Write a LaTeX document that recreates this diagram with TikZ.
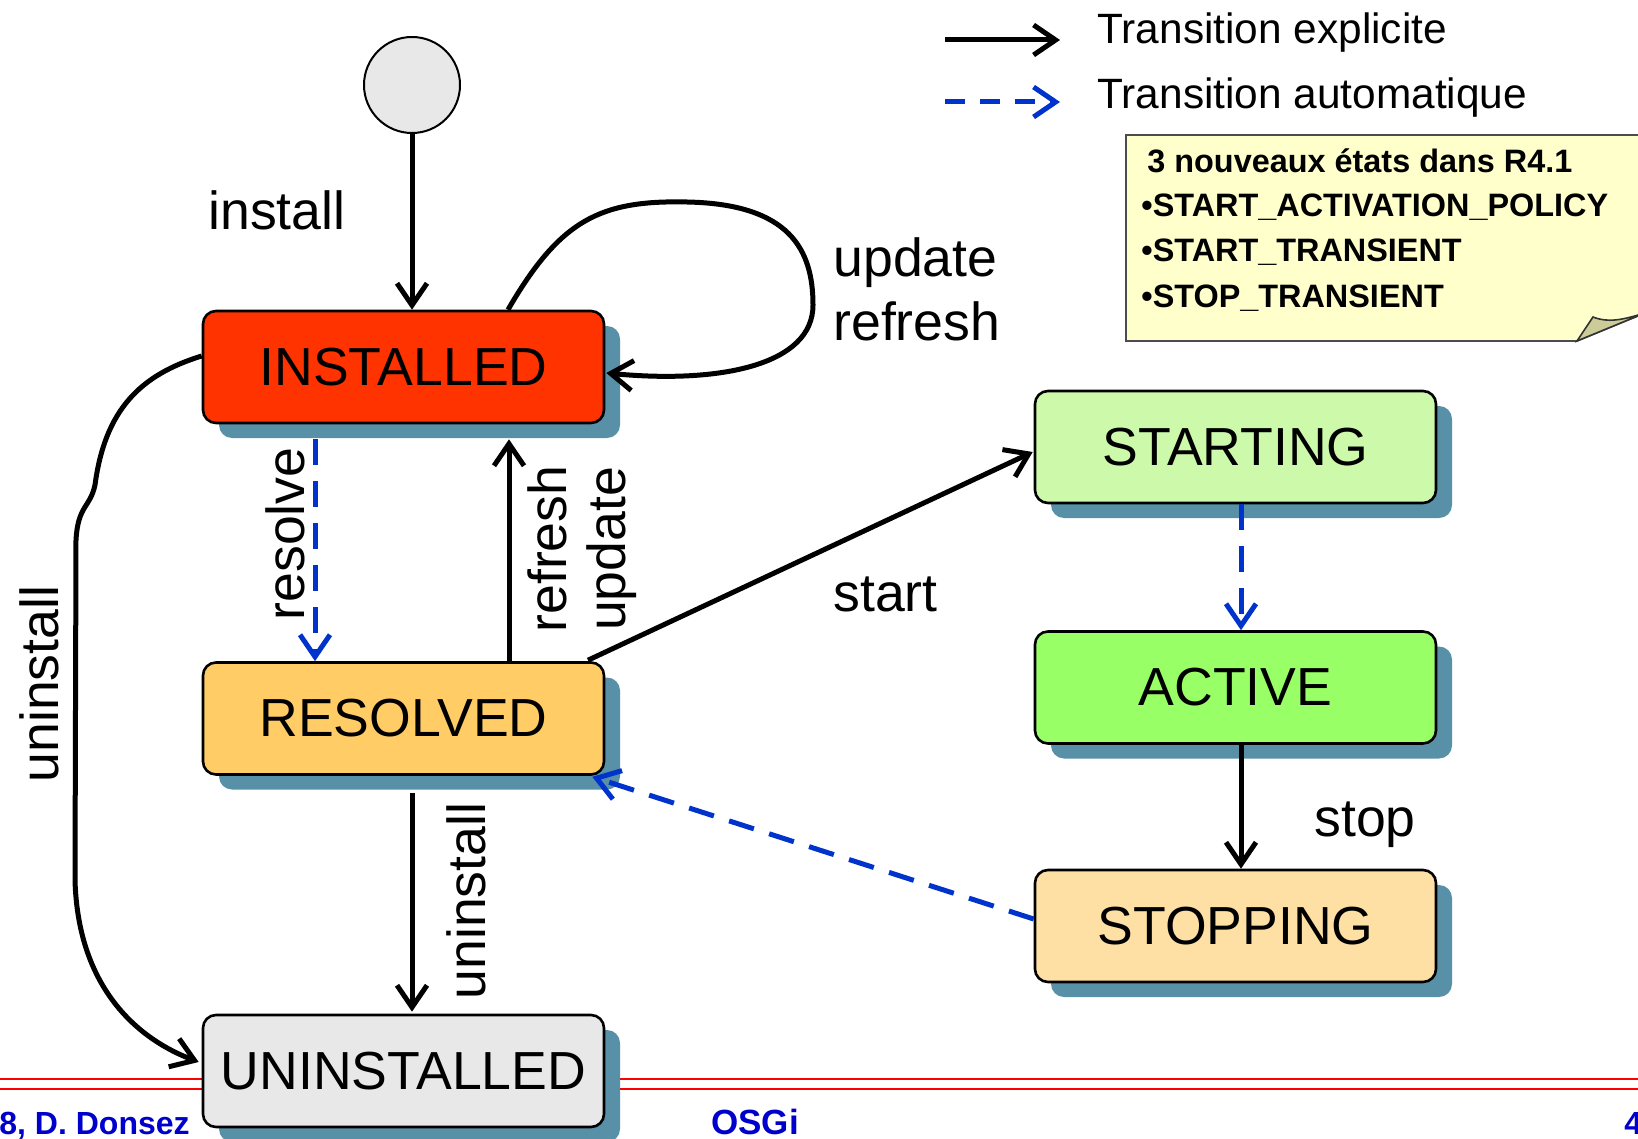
\documentclass[tikz,border=0pt]{standalone}
\usepackage{fontspec}
\setmainfont{Liberation Sans}
\usetikzlibrary{arrows.meta,calc,shadows}

\definecolor{installedc}{RGB}{255,51,0}
\definecolor{resolvedc}{RGB}{255,204,102}
\definecolor{uninstalledc}{RGB}{232,232,232}
\definecolor{startingc}{RGB}{204,250,170}
\definecolor{activec}{RGB}{153,255,102}
\definecolor{stoppingc}{RGB}{255,224,164}
\definecolor{shadowc}{RGB}{88,144,168}
\definecolor{autoc}{RGB}{0,51,204}
\definecolor{notec}{RGB}{255,255,204}
\definecolor{foldc}{RGB}{204,204,153}
\definecolor{footerc}{RGB}{0,0,204}
\definecolor{rulec}{RGB}{255,0,0}

\begin{document}
\begin{tikzpicture}[x=0.5pt,y=-0.5pt,
  state/.style={draw=black, line width=1.3pt, rounded corners=6.5pt,
    minimum width=200.5pt, minimum height=56pt, inner sep=0pt,
    font=\fontsize{26.8}{31}\selectfont,
    drop shadow={shadow xshift=8pt, shadow yshift=-7.5pt, fill=shadowc, opacity=1}},
  tipstyle/.style={-{Straight Barb[length=11pt,width=15pt]}},
  explicit/.style={draw=black, line width=2.5pt, tipstyle},
  autotrans/.style={draw=autoc, line width=2.5pt, dash pattern=on 13pt off 8pt, tipstyle},
  lbl/.style={font=\fontsize{26.8}{31}\selectfont, inner sep=0pt},
  legendtxt/.style={font=\fontsize{21.2}{25}\selectfont, inner sep=0pt, anchor=base west},
  notetxt/.style={font=\fontsize{16.2}{19}\selectfont\bfseries, inner sep=0pt, anchor=base west},
  footertxt/.style={font=\fontsize{16}{19}\selectfont\bfseries, text=footerc, inner sep=0pt, anchor=base west}
]
\useasboundingbox (0,0) rectangle (1638,1139);

% footer rules
\draw[rulec, line width=1pt] (0,1079) -- (1638,1079);
\draw[rulec, line width=1pt] (0,1089) -- (1638,1089);

% footer texts
\node[footertxt] (foot1) at (-1,1134) {8, D. Donsez};
\node[footertxt, font=\fontsize{17.5}{20}\selectfont\bfseries] (foot2) at (711,1134) {OSGi};
\node[footertxt] (foot3) at (1624,1134) {4};

% legend
\coordinate (legS1) at (945,40);
\coordinate (legS2) at (1060,40);
\coordinate (legD1) at (945,102);
\coordinate (legD2) at (1060,102);
\draw[explicit] (legS1) -- (legS2);
\draw[autotrans, dash pattern=on 10pt off 7.5pt] (legD1) -- (legD2);
\node[legendtxt] (legtxt1) at (1097,44) {Transition explicite};
\node[legendtxt] (legtxt2) at (1097,109) {Transition automatique};

% note with folded corner
\filldraw[fill=notec, draw=black!70, line width=0.8pt]
  (1126,135) -- (1645,135) -- (1645,313) -- (1577,341) -- (1126,341) -- cycle;
\filldraw[fill=foldc, draw=black!80, line width=0.8pt]
  (1577,341) -- (1593,317) .. controls (1608,323) and (1622,320) .. (1645,313) -- cycle;
\node[notetxt] (note1) at (1147,173) {3 nouveaux états dans R4.1};
\node[notetxt] (note2) at (1141,217) {•START\_ACTIVATION\_POLICY};
\node[notetxt] (note3) at (1141,262) {•START\_TRANSIENT};
\node[notetxt] (note4) at (1141,307) {•STOP\_TRANSIENT};

% initial state
\node[circle, draw=black, line width=1pt, fill=uninstalledc, minimum size=48pt, inner sep=0pt] (init) at (412,85) {};

% states
\node[state, fill=installedc]   (installed)   at (403.5,367)  {INSTALLED};
\node[state, fill=resolvedc]    (resolved)    at (403.5,718.5) {RESOLVED};
\node[state, fill=uninstalledc] (uninstalled) at (403.5,1071) {UNINSTALLED};
\node[state, fill=startingc]    (starting)    at (1235.5,447) {STARTING};
\node[state, fill=activec]      (active)      at (1235.5,687.5) {ACTIVE};
\node[state, fill=stoppingc]    (stopping)    at (1235.5,926) {STOPPING};

% transitions
\draw[explicit] (init.south) -- (init.south |- installed.north);
\draw[explicit] ($(installed.north)+(104.5,0)$)
  .. controls (560,220) and (600,200) .. (687,202)
  .. controls (790,204) and (813,250) .. (813,305)
  .. controls (813,365) and (720,384) .. ($(installed.east)+(1,6)$);
\draw[autotrans] ($(installed.south)+(-88.5,15)$) -- ($(resolved.north)+(-88.5,0)$);
\draw[explicit] ($(resolved.north)+(105.5,0)$) -- ($(installed.south)+(105.5,15)$);
\draw[explicit] ($(resolved.north)+(184.5,-1)$) -- ($(starting.west)+(-1,5)$);
\draw[autotrans] ($(starting.south)+(5.5,0)$) -- ($(active.north)+(5.5,0)$);
\draw[explicit] ($(active.south)+(5.5,0)$) -- ($(stopping.north)+(5.5,0)$);
\draw[autotrans] ($(stopping.west)+(0,-7)$) -- ($(resolved.south east)+(-13,1)$);
\draw[explicit] ($(resolved.south)+(8.5,17)$) -- ($(uninstalled.north)+(8.5,-2)$);
\draw[explicit] ($(installed.west)+(0,-11)$)
  .. controls (140,375) and (105,410) .. (95,485)
  .. controls (90,508) and (78,505) .. (76,540)
  -- (75,880)
  .. controls (78,990) and (140,1040) .. ($(uninstalled.west)+(-3,-9)$);

% labels
\node[lbl, anchor=base west] (linstall) at (208,230) {install};
\node[lbl, anchor=base west] (lupdate) at (833,277) {update};
\node[lbl, anchor=base west] (lrefresh) at (833,340) {refresh};
\node[lbl, rotate=90] (lresolve) at (285,534) {resolve};
\node[lbl, rotate=90] (lrefresh2) at (547,549) {refresh};
\node[lbl, rotate=90] (lupdate2) at (612,549) {update};
\node[lbl, anchor=base west] (lstart) at (833,611) {start};
\node[lbl, anchor=base west] (lstop) at (1314,836) {stop};
\node[lbl, rotate=90] (luninst1) at (39,684) {uninstall};
\node[lbl, rotate=90] (luninst2) at (466,901) {uninstall};
\end{tikzpicture}
\end{document}
